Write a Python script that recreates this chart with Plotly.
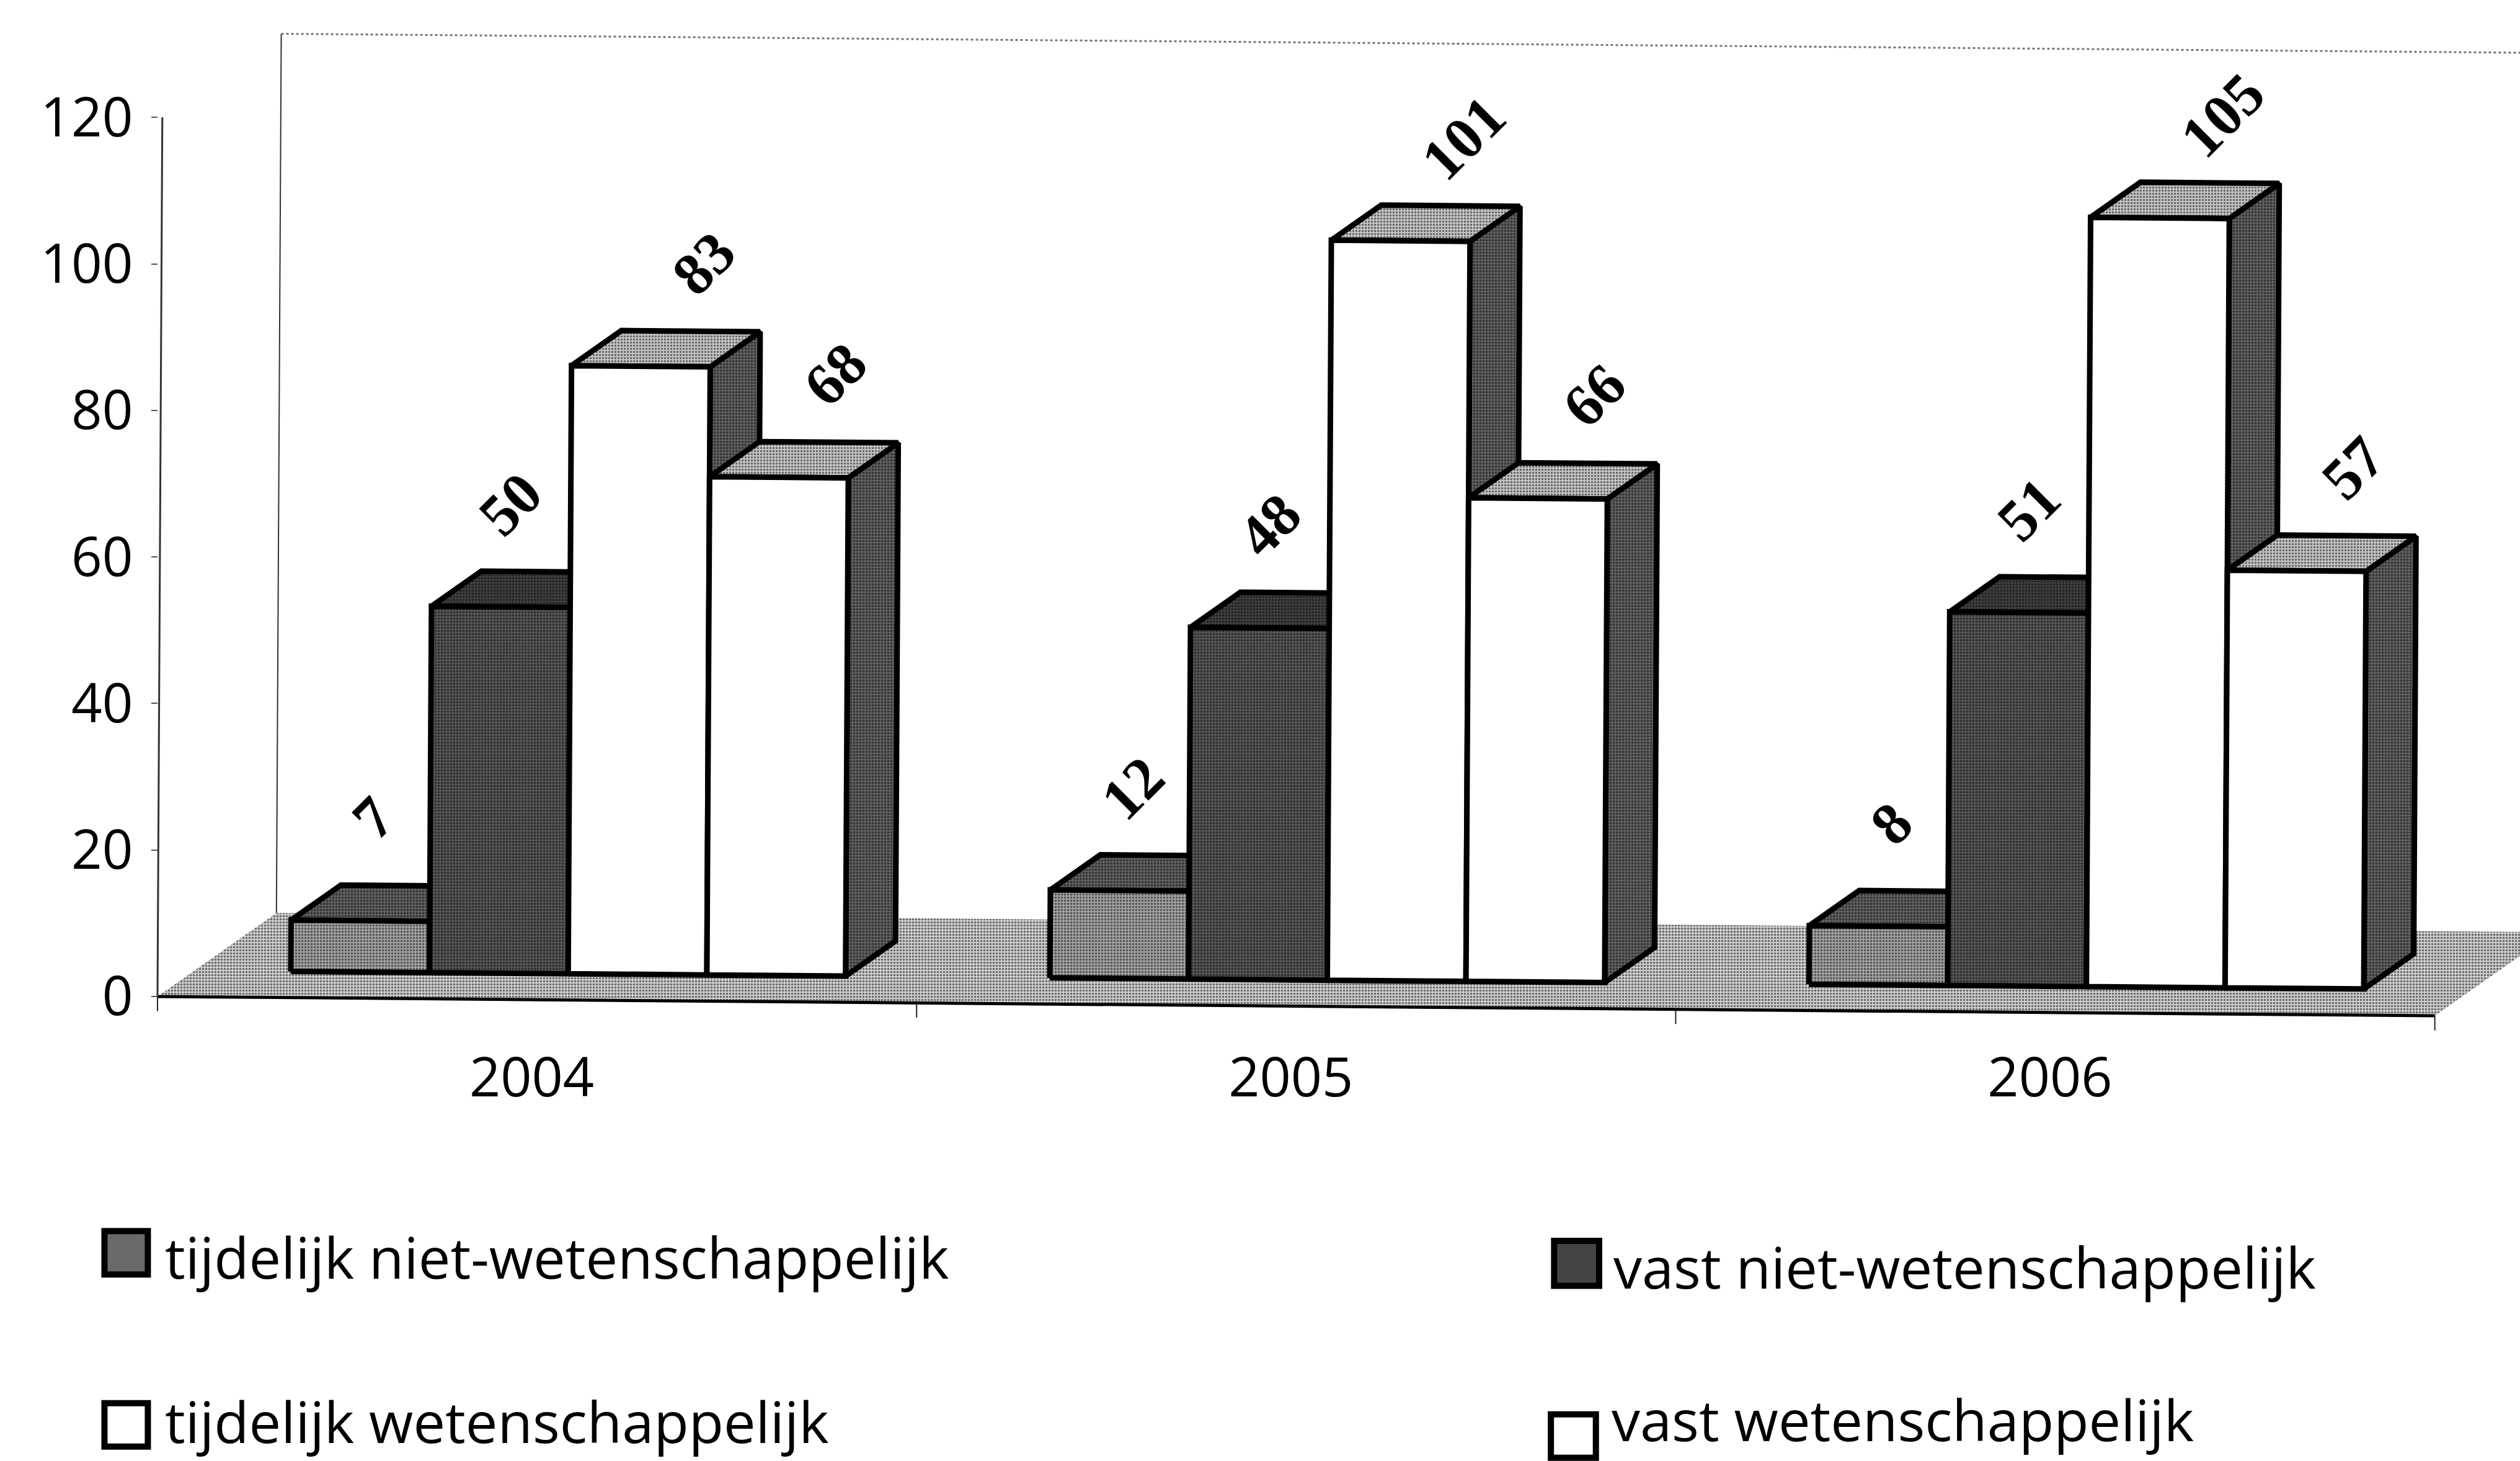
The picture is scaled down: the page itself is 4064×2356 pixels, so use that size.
import plotly.graph_objects as go

# ---------- data ----------
years = ["2004", "2005", "2006"]
series_names = ["tijdelijk niet-wetenschappelijk", "vast niet-wetenschappelijk",
                "tijdelijk wetenschappelijk", "vast wetenschappelijk"]
tijdelijk_niet = [7, 12, 8]
vast_niet = [50, 48, 51]
tijdelijk_wet = [83, 101, 105]
vast_wet = [68, 66, 57]
y_ticks = [0, 20, 40, 60, 80, 100, 120]

# ---------- styling / geometry ----------
W, H = 4064, 2356
RW, RH = 1568, 909            # reference-picture units used below
AX_L, AX_R, AX_T, AX_B = 98, 1515, 73, 620
CAT_PX = (AX_R - AX_L) / 3    # px per category
VAL_PX = (AX_B - AX_T) / 120  # px per value unit
FONT = "Open Sans"
LABEL_FONT = "Liberation Serif"

# oblique projection of the pseudo 3-D chart, and the slight tilt of the scan
DEPTH_X, DEPTH_Y = 74 / CAT_PX, 52 / VAL_PX
TILT = 4.0 / VAL_PX
SHEAR = 0.025 / CAT_PX
BAR_W = 86.3 / CAT_PX
BAR_START = -0.373
D_FRONT, D_BACK = 0.31, 0.73


def proj(x, v, d=0.0):
    return (x + DEPTH_X * d + SHEAR * v,
            v + DEPTH_Y * d - TILT * (x + 0.5))


def poly(points):
    pts = [proj(*p) for p in points]
    pts.append(pts[0])
    return [p[0] for p in pts], [p[1] for p in pts]


def speck(bg, solidity=0.35, size=5):
    return dict(shape=".", size=size, solidity=solidity, fgcolor="#000000", bgcolor=bg)


fig = go.Figure()


def face(points, name, bg=None, white=False, lw=9, solidity=0.35):
    xs, ys = poly(points)
    kw = dict(fillcolor="#ffffff") if white else dict(fillcolor=bg, fillpattern=speck(bg, solidity))
    fig.add_trace(go.Scatter(x=xs, y=ys, mode="lines", fill="toself", name=name,
                             line=dict(color="#000000", width=lw),
                             cliponaxis=False, hoverinfo="skip", showlegend=False, **kw))


def line(points, color, width, dash="solid", name=""):
    xs, ys = [], []
    for p in points:
        if p is None:
            xs.append(None)
            ys.append(None)
        else:
            xs.append(p[0])
            ys.append(p[1])
    fig.add_trace(go.Scatter(x=xs, y=ys, mode="lines", name=name,
                             line=dict(color=color, width=width, dash=dash),
                             hoverinfo="skip", showlegend=False))


# floor
face([(-0.5, 0, 0), (2.5, 0, 0), (2.5, 0, 1), (-0.5, 0, 1)], "floor", bg="#cfcfcf", lw=0, solidity=0.4)

# axis lines and category ticks (following the scan tilt)
line([proj(-0.5, 0), proj(2.5, 0)], "#000000", 5, name="x axis")
line([proj(-0.5, 0), proj(-0.5, 120)], "#333333", 3, name="y axis")
ticks = []
for b in [-0.5, 0.5, 1.5, 2.5]:
    px, py = proj(b, 0)
    ticks += [(px, py), (px, py - 2.0), None]
line(ticks, "#222222", 2, name="category ticks")

# back wall edges
line([proj(-0.5, 0, 1), proj(-0.5, 120, 1)], "#333333", 2, name="wall")
line([proj(-0.5, 120, 1), proj(2.5, 120, 1)], "#777777", 3, dash="4px,4px", name="wall top")

# bars
values = [tijdelijk_niet, vast_niet, tijdelijk_wet, vast_wet]
front_col = ["#a0a0a0", "#555555", None, None]
top_col = ["#5f5f5f", "#3f3f3f", "#c4c4c4", "#c4c4c4"]
side_col = ["#5f5f5f", "#5f5f5f", "#5f5f5f", "#5f5f5f"]
label_dx = [8, 6, 39, 35]
label_dy = 64

annotations = []
for g, year in enumerate(years):
    for s, vals in enumerate(values):
        v = vals[g]
        l = g + BAR_START + s * BAR_W
        r = l + BAR_W
        nm = f"{series_names[s]} {year}"
        face([(r, 0, D_FRONT), (r, 0, D_BACK), (r, v, D_BACK), (r, v, D_FRONT)], nm + " side", bg=side_col[s])
        face([(l, v, D_FRONT), (r, v, D_FRONT), (r, v, D_BACK), (l, v, D_BACK)], nm + " top", bg=top_col[s])
        pts = [(l, 0, D_FRONT), (r, 0, D_FRONT), (r, v, D_FRONT), (l, v, D_FRONT)]
        if front_col[s] is None:
            face(pts, nm, white=True)
        else:
            face(pts, nm, bg=front_col[s])
        cx, cy = proj((l + r) / 2, v, D_FRONT)
        annotations.append(dict(x=cx + label_dx[s] / CAT_PX, y=cy + label_dy / VAL_PX, xref="x", yref="y",
                                text=str(v), showarrow=False, textangle=-45,
                                font=dict(family=LABEL_FONT, size=96, color="#000000", weight="bold"),
                                xanchor="center", yanchor="middle"))

# legend drawn to the reference's free layout
legend_pos = [(65, 766, 92, 793, 102, 782), (967, 772, 995, 800, 1003, 788),
              (65, 873, 92, 900, 102, 884), (965, 880, 993, 907, 1002, 883)]
legend_fill = ["#6a6a6a", "#444444", "#ffffff", "#ffffff"]
shapes = []
for name, (a, b, c, d, tx0, tyc), fc in zip(series_names, legend_pos, legend_fill):
    shapes.append(dict(type="rect", xref="paper", yref="paper",
                       x0=a / RW, x1=c / RW, y0=1 - d / RH, y1=1 - b / RH,
                       fillcolor=fc, line=dict(color="#000000", width=10)))
    annotations.append(dict(x=tx0 / RW, y=1 - tyc / RH, xref="paper", yref="paper", text=name,
                            showarrow=False, xanchor="left", yanchor="middle",
                            font=dict(family=FONT, size=92, color="#000000")))

fig.update_layout(
    width=W, height=H, autosize=False, paper_bgcolor="#ffffff", plot_bgcolor="rgba(0,0,0,0)",
    margin=dict(l=0, r=0, t=0, b=0, pad=0, autoexpand=False),
    showlegend=False, annotations=annotations, shapes=shapes,
    font=dict(family=FONT, size=84, color="#000000"),
    xaxis=dict(range=[-0.5 - AX_L / CAT_PX, -0.5 + (RW - AX_L) / CAT_PX],
               anchor="free", position=1 - AX_B / RH,
               tickmode="array", tickvals=[i - 0.007 for i in range(len(years))], ticktext=years,
               showgrid=False, zeroline=False, showline=False, ticks="", ticklabelstandoff=72,
               tickfont=dict(family=FONT, size=88, color="#000000")),
    yaxis=dict(range=[(AX_B - RH) / VAL_PX, AX_B / VAL_PX],
               anchor="free", position=AX_L / RW,
               tickmode="array", tickvals=y_ticks, showgrid=False, zeroline=False, showline=False,
               ticks="outside", ticklen=10, tickwidth=2, tickcolor="#555555", ticklabelstandoff=12,
               tickfont=dict(family=FONT, size=87, color="#000000")),
)

fig.write_html("out.html", post_script="document.body.style.margin='0';",
               config=dict(displayModeBar=False))
